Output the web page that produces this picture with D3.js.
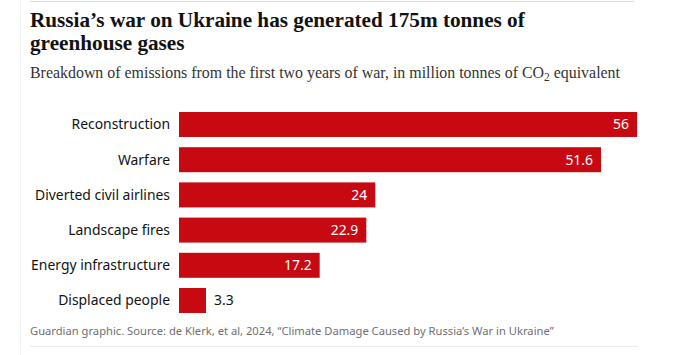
<!DOCTYPE html>
<html>
<head>
<meta charset="utf-8">
<script src="https://cdn.jsdelivr.net/npm/d3@7"></script>
<style>
  html, body { margin: 0; padding: 0; background: #fff; }
  svg { display: block; }
</style>
</head>
<body>
<svg id="chart" width="680" height="355"></svg>
<script>
const categories = ["Reconstruction", "Warfare", "Diverted civil airlines", "Landscape fires", "Energy infrastructure", "Displaced people"];
const values = [56, 51.6, 24, 22.9, 17.2, 3.3];
const valueLabels = ["56", "51.6", "24", "22.9", "17.2", "3.3"];
const titleLines = ["Russia\u2019s war on Ukraine has generated 175m tonnes of", "greenhouse gases"];
const sourceText = "Guardian graphic. Source: de Klerk, et al, 2024, \u201cClimate Damage Caused by Russia\u2019s War in Ukraine\u201d";

const svg = d3.select("#chart");
const W = 680, H = 355;

// frame lines
svg.append("line").attr("x1", 20.5).attr("x2", 20.5).attr("y1", 0).attr("y2", H)
  .attr("stroke", "#f2f2f2").attr("stroke-width", 1);
svg.append("line").attr("x1", 30).attr("x2", 634).attr("y1", 1.5).attr("y2", 1.5)
  .attr("stroke", "#dcdcdc").attr("stroke-width", 1);
svg.append("line").attr("x1", 30).attr("x2", 638).attr("y1", 346.5).attr("y2", 346.5)
  .attr("stroke", "#ececec").attr("stroke-width", 1);

function fit(sel, target) {
  const w = sel.node().getComputedTextLength();
  const fs = parseFloat(sel.attr("font-size"));
  sel.attr("font-size", (fs * target / w).toFixed(2));
}

// title
const serif = "'Liberation Serif', 'DejaVu Serif', serif";
const t1 = svg.append("text").attr("x", 30).attr("y", 27)
  .attr("font-family", serif).attr("font-weight", 700).attr("font-size", 21)
  .attr("fill", "#121212").text(titleLines[0]);
fit(t1, 495);
const fsTitle = t1.attr("font-size");
svg.append("text").attr("x", 30).attr("y", 50)
  .attr("font-family", serif).attr("font-weight", 700).attr("font-size", fsTitle)
  .attr("fill", "#121212").text(titleLines[1]);

// subtitle with CO2 subscript
const sub = svg.append("text").attr("x", 30).attr("y", 78)
  .attr("font-family", serif).attr("font-size", 14.5).attr("fill", "#333");
sub.append("tspan").text("Breakdown of emissions from the first two years of war, in million tonnes of CO");
sub.append("tspan").attr("font-size", "0.72em").attr("dy", 3).text("2");
sub.append("tspan").attr("dy", -3).text(" equivalent");
fit(sub, 590);

// scales
const x0 = 179;
const x = d3.scaleLinear().domain([0, 56]).range([x0, 637]);
const y = d3.scaleBand().domain(categories).range([112, 313]).paddingInner(0.29).paddingOuter(0);

const sans = "'Noto Sans', 'Open Sans', sans-serif";
const g = svg.append("g");

g.selectAll("rect.bar").data(categories).join("rect")
  .attr("class", "bar")
  .attr("x", x(0))
  .attr("y", d => y(d))
  .attr("width", (d, i) => x(values[i]) - x(0))
  .attr("height", y.bandwidth())
  .attr("fill", "#c70a12");

const labels = g.selectAll("text.cat").data(categories).join("text")
  .attr("class", "cat")
  .attr("x", 170)
  .attr("y", d => y(d) + y.bandwidth() / 2)
  .attr("dy", "0.35em")
  .attr("text-anchor", "end")
  .attr("font-family", sans)
  .attr("font-size", 14)
  .attr("fill", "#121212")
  .text(d => d);

// fit label size to reference width of "Energy infrastructure"
const eNode = labels.filter(d => d === "Energy infrastructure");
const ew = eNode.node().getComputedTextLength();
const lfs = (14 * 139 / ew).toFixed(2);
labels.attr("font-size", lfs);

g.selectAll("text.val").data(categories).join("text")
  .attr("class", "val")
  .attr("x", (d, i) => values[i] > 8 ? x(values[i]) - 8 : x(values[i]) + 8)
  .attr("y", d => y(d) + y.bandwidth() / 2)
  .attr("dy", "0.35em")
  .attr("text-anchor", (d, i) => values[i] > 8 ? "end" : "start")
  .attr("font-family", sans)
  .attr("font-size", lfs)
  .attr("fill", (d, i) => values[i] > 8 ? "#ffffff" : "#121212")
  .text((d, i) => valueLabels[i]);

// source
const src = svg.append("text").attr("x", 30).attr("y", 335)
  .attr("font-family", sans).attr("font-size", 11.5).attr("fill", "#707070")
  .text(sourceText);
fit(src, 524);
</script>
</body>
</html>
